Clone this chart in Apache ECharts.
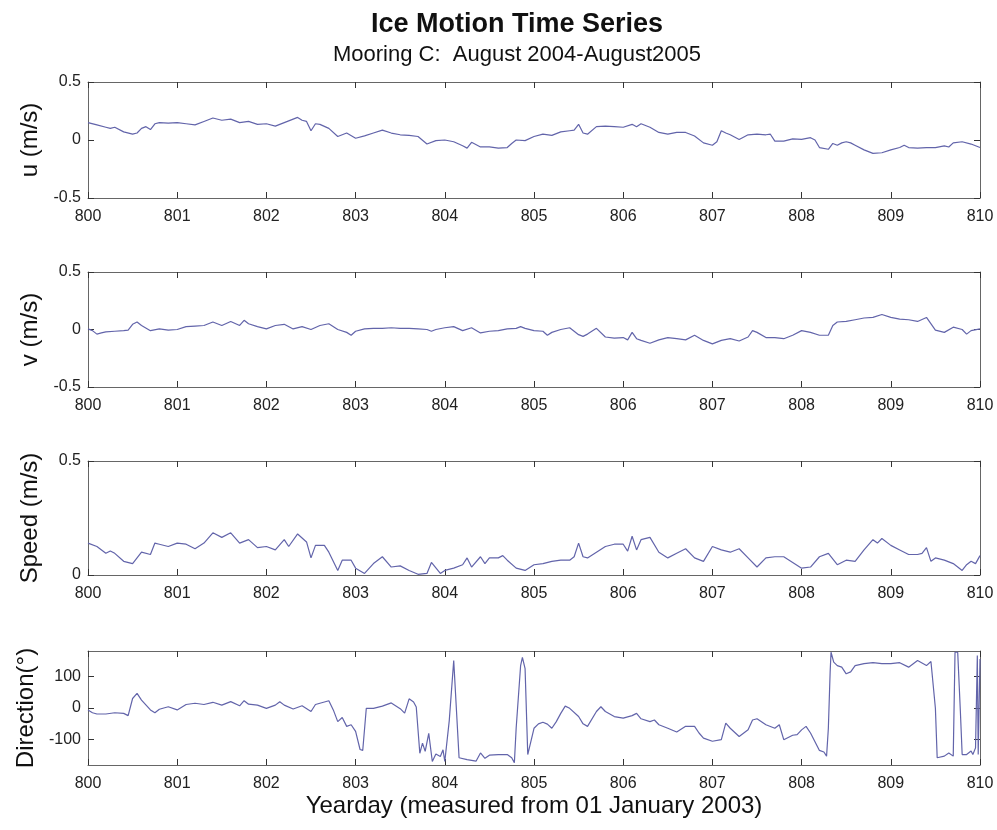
<!DOCTYPE html>
<html>
<head>
<meta charset="utf-8">
<script src="https://cdn.jsdelivr.net/npm/echarts@6/dist/echarts.min.js"></script>
<style>
  html, body { margin: 0; padding: 0; background: #ffffff; }
  #chart { width: 997px; height: 830px; }
</style>
</head>
<body>
<div id="chart"></div>
<script>
// Ice motion time series, Mooring C (yearday measured from 01 Jan 2003)

const titleText = 'Ice Motion Time Series';
const subtitleText = 'Mooring C:  August 2004-August2005';
const xAxisName = 'Yearday (measured from 01 January 2003)';
const panelNames = ['u (m/s)', 'v (m/s)', 'Speed (m/s)', 'Direction(\u00b0)'];
const dirTickValues = [-100, 0, 100];

// Eastward component u (m/s)
const uDays = [800.0, 800.1, 800.2, 800.25, 800.3, 800.4, 800.5, 800.55, 800.6, 800.65, 800.7, 800.75, 800.8, 800.9,
  801.0, 801.1, 801.2, 801.3, 801.4, 801.5, 801.6, 801.7, 801.8, 801.9,
  802.0, 802.1, 802.2, 802.3, 802.35, 802.4, 802.45, 802.5, 802.55, 802.6, 802.7, 802.8, 802.9,
  803.0, 803.1, 803.2, 803.3, 803.4, 803.5, 803.6, 803.7, 803.8, 803.9,
  804.0, 804.1, 804.2, 804.25, 804.3, 804.4, 804.5, 804.6, 804.7, 804.75, 804.8, 804.9,
  805.0, 805.1, 805.2, 805.3, 805.4, 805.45, 805.5, 805.55, 805.6, 805.7, 805.8, 805.9,
  806.0, 806.1, 806.15, 806.2, 806.3, 806.4, 806.5, 806.6, 806.7, 806.8, 806.9,
  807.0, 807.05, 807.1, 807.15, 807.2, 807.3, 807.4, 807.5, 807.6, 807.65, 807.7, 807.8, 807.9,
  808.0, 808.1, 808.15, 808.2, 808.3, 808.35, 808.4, 808.45, 808.5, 808.55, 808.6, 808.7, 808.8, 808.9,
  809.0, 809.1, 809.15, 809.2, 809.3, 809.4, 809.5, 809.6, 809.65, 809.7, 809.8, 809.9, 810.0];
const uVals = [0.15, 0.13, 0.11, 0.10, 0.11, 0.07, 0.05, 0.06, 0.10, 0.115, 0.09, 0.14, 0.15, 0.145,
  0.15, 0.14, 0.13, 0.16, 0.19, 0.17, 0.18, 0.15, 0.16, 0.135,
  0.14, 0.12, 0.15, 0.18, 0.195, 0.17, 0.16, 0.08, 0.14, 0.135, 0.10, 0.03, 0.06,
  0.015, 0.035, 0.06, 0.085, 0.06, 0.045, 0.04, 0.03, -0.035, -0.005,
  0.0, -0.015, -0.05, -0.07, -0.02, -0.06, -0.06, -0.07, -0.065, -0.03, 0.0, -0.005,
  0.03, 0.05, 0.04, 0.07, 0.08, 0.085, 0.135, 0.06, 0.05, 0.115, 0.12, 0.115,
  0.11, 0.135, 0.115, 0.14, 0.11, 0.065, 0.05, 0.065, 0.065, 0.035, -0.025,
  -0.045, -0.015, 0.08, 0.06, 0.045, 0.005, 0.045, 0.05, 0.045, 0.05, -0.01, -0.01, 0.01,
  0.005, 0.02, 0.0, -0.065, -0.08, -0.03, -0.045, -0.025, -0.015, -0.025, -0.045, -0.085, -0.115, -0.11,
  -0.085, -0.065, -0.045, -0.065, -0.07, -0.065, -0.065, -0.05, -0.06, -0.025, -0.015, -0.035, -0.065];

// Northward component v (m/s)
const vDays = [800.0, 800.05, 800.1, 800.15, 800.2, 800.3, 800.4, 800.45, 800.5, 800.55, 800.6, 800.7, 800.8, 800.9,
  801.0, 801.1, 801.2, 801.3, 801.4, 801.5, 801.6, 801.7, 801.75, 801.8, 801.9,
  802.0, 802.1, 802.2, 802.3, 802.4, 802.5, 802.6, 802.7, 802.8, 802.9, 802.95,
  803.0, 803.1, 803.2, 803.3, 803.4, 803.5, 803.6, 803.7, 803.8, 803.85, 803.9,
  804.0, 804.1, 804.2, 804.3, 804.4, 804.5, 804.6, 804.7, 804.8, 804.85, 804.9,
  805.0, 805.1, 805.15, 805.2, 805.3, 805.4, 805.5, 805.55, 805.6, 805.7, 805.8, 805.9,
  806.0, 806.05, 806.1, 806.15, 806.2, 806.3, 806.4, 806.5, 806.6, 806.7, 806.8, 806.9,
  807.0, 807.1, 807.2, 807.3, 807.4, 807.45, 807.5, 807.6, 807.7, 807.8, 807.9,
  808.0, 808.1, 808.2, 808.3, 808.35, 808.4, 808.5, 808.6, 808.7, 808.8, 808.9,
  809.0, 809.1, 809.2, 809.3, 809.4, 809.5, 809.6, 809.7, 809.8, 809.85, 809.9, 810.0];
const vVals = [0.005, -0.01, -0.04, -0.03, -0.02, -0.015, -0.01, -0.005, 0.045, 0.065, 0.035, -0.01, 0.005, -0.005,
  0.0, 0.025, 0.03, 0.035, 0.065, 0.035, 0.07, 0.035, 0.08, 0.05, 0.025,
  0.005, 0.035, 0.045, 0.005, 0.025, 0.0, 0.035, 0.05, 0.0, -0.025, -0.05,
  -0.015, 0.005, 0.01, 0.01, 0.015, 0.01, 0.01, 0.005, 0.0, -0.015, 0.0,
  0.015, 0.025, -0.01, 0.015, -0.03, -0.015, -0.01, 0.005, 0.01, 0.025, 0.01,
  -0.01, -0.015, -0.05, -0.025, 0.0, 0.015, -0.045, -0.06, -0.04, 0.01, -0.065, -0.075,
  -0.07, -0.09, -0.025, -0.08, -0.095, -0.12, -0.09, -0.07, -0.08, -0.09, -0.05, -0.095,
  -0.125, -0.095, -0.08, -0.1, -0.065, -0.01, -0.025, -0.07, -0.07, -0.08, -0.05,
  -0.01, -0.025, -0.05, -0.05, 0.035, 0.065, 0.07, 0.085, 0.1, 0.105, 0.13,
  0.105, 0.09, 0.085, 0.07, 0.105, -0.005, -0.025, 0.02, 0.0, -0.04, -0.01, 0.005];

// Ice speed (m/s)
const speedDays = [800.0, 800.1, 800.2, 800.25, 800.3, 800.4, 800.5, 800.6, 800.7, 800.75, 800.8, 800.9,
  801.0, 801.1, 801.2, 801.3, 801.4, 801.5, 801.6, 801.7, 801.8, 801.9,
  802.0, 802.1, 802.2, 802.25, 802.35, 802.45, 802.5, 802.55, 802.65, 802.7, 802.8, 802.85, 802.95,
  803.0, 803.1, 803.2, 803.3, 803.4, 803.5, 803.6, 803.7, 803.8, 803.85, 803.95,
  804.0, 804.1, 804.2, 804.25, 804.3, 804.4, 804.45, 804.5, 804.6, 804.65, 804.7, 804.8, 804.9,
  805.0, 805.1, 805.2, 805.3, 805.4, 805.45, 805.5, 805.55, 805.6, 805.7, 805.8, 805.9,
  806.0, 806.05, 806.1, 806.15, 806.2, 806.3, 806.4, 806.5, 806.6, 806.7, 806.8, 806.9,
  807.0, 807.1, 807.2, 807.3, 807.4, 807.5, 807.6, 807.7, 807.8, 807.9,
  808.0, 808.1, 808.2, 808.3, 808.4, 808.5, 808.6, 808.7, 808.8, 808.85, 808.9,
  809.0, 809.1, 809.2, 809.3, 809.35, 809.4, 809.45, 809.5, 809.6, 809.7, 809.8, 809.85, 809.9, 809.95, 810.0];
const speedVals = [0.14, 0.125, 0.095, 0.105, 0.095, 0.06, 0.05, 0.10, 0.09, 0.14, 0.135, 0.125,
  0.14, 0.135, 0.115, 0.14, 0.185, 0.165, 0.185, 0.14, 0.155, 0.12,
  0.125, 0.11, 0.155, 0.125, 0.18, 0.145, 0.075, 0.13, 0.13, 0.10, 0.02, 0.065, 0.065,
  0.03, 0.007, 0.05, 0.08, 0.035, 0.04, 0.02, 0.003, 0.007, 0.055, 0.007,
  0.02, 0.03, 0.045, 0.075, 0.035, 0.08, 0.05, 0.075, 0.075, 0.085, 0.065, 0.03, 0.02,
  0.045, 0.05, 0.06, 0.065, 0.065, 0.08, 0.14, 0.08, 0.075, 0.10, 0.125, 0.135,
  0.135, 0.105, 0.17, 0.11, 0.155, 0.165, 0.10, 0.075, 0.095, 0.115, 0.075, 0.06,
  0.125, 0.11, 0.10, 0.115, 0.075, 0.035, 0.075, 0.08, 0.08, 0.055,
  0.03, 0.035, 0.08, 0.095, 0.045, 0.065, 0.06, 0.11, 0.155, 0.14, 0.16,
  0.13, 0.11, 0.09, 0.09, 0.095, 0.12, 0.06, 0.075, 0.065, 0.05, 0.02, 0.045, 0.06, 0.05, 0.085];

// Drift direction (degrees)
const dirDays = [800.0, 800.05, 800.1, 800.2, 800.3, 800.4, 800.45, 800.5, 800.52, 800.55, 800.6, 800.7, 800.75, 800.8, 800.9,
  801.0, 801.1, 801.2, 801.3, 801.4, 801.5, 801.6, 801.7, 801.75, 801.8, 801.9,
  802.0, 802.1, 802.15, 802.2, 802.3, 802.4, 802.5, 802.55, 802.6, 802.7, 802.75, 802.8, 802.85, 802.9, 802.95,
  803.0, 803.05, 803.08, 803.12, 803.2, 803.3, 803.4, 803.5, 803.55, 803.6, 803.65, 803.68, 803.72, 803.75, 803.78,
  803.82, 803.86, 803.9, 803.95, 803.98,
  804.0, 804.05, 804.1, 804.12, 804.16, 804.25, 804.35, 804.4, 804.45, 804.5, 804.6, 804.7, 804.75, 804.78,
  804.8, 804.85, 804.87, 804.9, 804.93,
  805.0, 805.05, 805.1, 805.15, 805.2, 805.25, 805.3, 805.35, 805.4, 805.5, 805.55, 805.6, 805.7, 805.75, 805.8, 805.9,
  806.0, 806.1, 806.15, 806.2, 806.3, 806.35, 806.4, 806.5, 806.6, 806.7, 806.8, 806.85, 806.9,
  807.0, 807.1, 807.15, 807.2, 807.3, 807.4, 807.45, 807.5, 807.6, 807.7, 807.75, 807.8, 807.9, 807.95,
  808.0, 808.05, 808.1, 808.2, 808.25, 808.28, 808.3, 808.32, 808.33, 808.36, 808.4, 808.45, 808.5, 808.55, 808.6,
  808.7, 808.8, 808.9, 809.0, 809.1, 809.2, 809.3, 809.4, 809.45, 809.5, 809.52, 809.6, 809.65, 809.7,
  809.72, 809.75, 809.78, 809.8, 809.85, 809.9, 809.92, 809.95, 809.97, 809.98, 810.0];
const dirVals = [-6, -15, -19, -19, -15, -17, -24, 30, 25, 46, 25, -6, -15, -4, 4,
  -6, 11, 15, 11, 18, 9, 20, 7, 23, 12, 9,
  -1, 9, 20, 9, -3, 7, -11, 11, 15, 23, -6, -43, -30, -58, -53,
  -74, -131, -134, -1, -1, 6, 16, -2, -16, 29, 19, 3, -143, -111, -137,
  -80, -169, -145, -153, -132,
  -169, -40, 150, 155, -157, -163, -168, -142, -159, -149, -147, -147, -157, -173,
  -64, 134, 160, 124, -147,
  -64, -50, -45, -51, -64, -43, -17, 6, -1, -27, -50, -58, -11, 4, -11, -27,
  -32, -24, -17, -34, -43, -38, -53, -64, -76, -58, -58, -79, -95,
  -105, -100, -48, -64, -90, -69, -38, -34, -53, -64, -53, -100, -86, -84,
  -69, -58, -79, -134, -139, -152, -64, 114, 176, 145, 134, 129, 108, 114, 134,
  140, 143, 140, 140, 143, 129, 150, 134, 147, -1, -157, -152, -142, -152,
  176, 176, -11, -147, -147, -136, -147, -126, 166, -147, 155];

const pairs = (xs, ys) => xs.map((x, i) => [x, ys[i]]);

const FONT = '"Liberation Sans", Arial, Helvetica, sans-serif';
const LINE_COLOR = '#6264aa';
const FRAME = { color: '#666666', width: 1 };

const gridTops = [82, 272, 461, 651];
const gridHeights = [116, 115, 114, 114];
const yRanges = [[-0.5, 0.5, 0.5], [-0.5, 0.5, 0.5], [0, 0.5, 0.5], [-180, 180, null]];
const seriesData = [pairs(uDays, uVals), pairs(vDays, vVals), pairs(speedDays, speedVals), pairs(dirDays, dirVals)];

const grids = [], xAxes = [], yAxes = [], series = [];

gridTops.forEach((top, i) => {
  grids.push({ left: 88, width: 892, top: top, height: gridHeights[i], containLabel: false });

  const tickStyle = { show: true, inside: true, length: 6, lineStyle: { color: '#333333', width: 1 } };

  // bottom axis with labels
  xAxes.push({
    gridIndex: i, type: 'value', position: 'bottom', min: 800, max: 810, interval: 1,
    axisLine: { show: true, onZero: false, lineStyle: FRAME },
    axisTick: tickStyle,
    axisLabel: { show: true, margin: 11, color: '#222222', fontSize: 16, fontFamily: FONT },
    splitLine: { show: false },
    name: i === 3 ? xAxisName : '',
    nameLocation: 'middle', nameGap: 29,
    nameTextStyle: { fontSize: 24, color: '#111111', fontFamily: FONT }
  });
  // top frame with ticks
  xAxes.push({
    gridIndex: i, type: 'value', position: 'top', min: 800, max: 810, interval: 1,
    axisLine: { show: true, onZero: false, lineStyle: FRAME },
    axisTick: tickStyle, axisLabel: { show: false }, splitLine: { show: false }
  });

  const [ymin, ymax, yint] = yRanges[i];
  const leftY = {
    gridIndex: i, type: 'value', position: 'left', min: ymin, max: ymax,
    axisLine: { show: true, onZero: false, lineStyle: FRAME },
    axisTick: Object.assign({}, tickStyle),
    axisLabel: { show: true, margin: 7, color: '#222222', fontSize: 16, fontFamily: FONT },
    splitLine: { show: false },
    name: panelNames[i], nameLocation: 'middle', nameGap: 46,
    nameTextStyle: { fontSize: 24, color: '#111111', fontFamily: FONT }
  };
  const rightY = {
    gridIndex: i, type: 'value', position: 'right', min: ymin, max: ymax,
    axisLine: { show: true, onZero: false, lineStyle: FRAME },
    axisTick: Object.assign({}, tickStyle),
    axisLabel: { show: false }, splitLine: { show: false }
  };
  if (yint !== null) {
    leftY.interval = yint;
    rightY.interval = yint;
  } else {
    leftY.axisLabel.customValues = dirTickValues;
    leftY.axisTick.customValues = dirTickValues;
    rightY.axisTick.customValues = dirTickValues;
  }
  yAxes.push(leftY, rightY);

  series.push({
    type: 'line', xAxisIndex: 2 * i, yAxisIndex: 2 * i,
    data: seriesData[i], showSymbol: false, symbol: 'none', smooth: false,
    lineStyle: { color: LINE_COLOR, width: 1.2 }, animation: false
  });
});

const chart = echarts.init(document.getElementById('chart'), null, { renderer: 'canvas' });
chart.setOption({
  backgroundColor: '#ffffff',
  animation: false,
  title: [
    { text: titleText, left: 512, top: 6, textAlign: 'center',
      textStyle: { fontSize: 27, fontWeight: 'bold', color: '#111111', fontFamily: FONT } },
    { text: subtitleText, left: 512, top: 39, textAlign: 'center',
      textStyle: { fontSize: 22, fontWeight: 'normal', color: '#111111', fontFamily: FONT } }
  ],
  grid: grids,
  xAxis: xAxes,
  yAxis: yAxes,
  series: series
});
</script>
</body>
</html>
